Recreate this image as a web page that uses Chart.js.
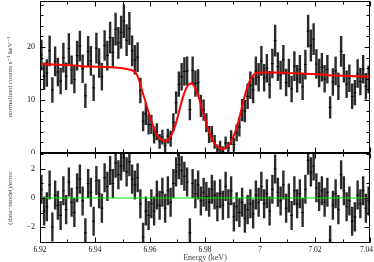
<!DOCTYPE html>
<html>
<head>
<meta charset="utf-8">
<script src="https://cdn.jsdelivr.net/npm/chart.js"></script>
<style>
    html, body { margin: 0; padding: 0; background: #fff; overflow: hidden; }
    #wrap { position: relative; width: 374px; height: 262px; }
    canvas { position: absolute; left: 0; }
</style>
</head>
<body>
<div id="wrap">
    <canvas id="spec" width="374" height="154" style="top:0"></canvas>
    <canvas id="resid" width="374" height="109" style="top:153px"></canvas>
</div>
<script>
    // channel centres (keV)
    var energy = [
        6.9205, 6.9215, 6.9225, 6.9235, 6.9245, 6.9255, 6.9265, 6.9275, 6.9285, 6.9295,
        6.9305, 6.9315, 6.9325, 6.9335, 6.9345, 6.9355, 6.9365, 6.9375, 6.9385, 6.9395,
        6.9405, 6.9415, 6.9425, 6.9435, 6.9445, 6.9455, 6.9465, 6.9475, 6.9485, 6.9495,
        6.9505, 6.9515, 6.9525, 6.9535, 6.9545, 6.9555, 6.9565, 6.9575, 6.9585, 6.9595,
        6.9605, 6.9615, 6.9625, 6.9635, 6.9645, 6.9655, 6.9665, 6.9675, 6.9685, 6.9695,
        6.9705, 6.9715, 6.9725, 6.9735, 6.9745, 6.9755, 6.9765, 6.9775, 6.9785, 6.9795,
        6.9805, 6.9815, 6.9825, 6.9835, 6.9845, 6.9855, 6.9865, 6.9875, 6.9885, 6.9895,
        6.9905, 6.9915, 6.9925, 6.9935, 6.9945, 6.9955, 6.9965, 6.9975, 6.9985, 6.9995,
        7.0005, 7.0015, 7.0025, 7.0035, 7.0045, 7.0055, 7.0065, 7.0075, 7.0085, 7.0095,
        7.0105, 7.0115, 7.0125, 7.0135, 7.0145, 7.0155, 7.0165, 7.0175, 7.0185, 7.0195,
        7.0205, 7.0215, 7.0225, 7.0235, 7.0245, 7.0255, 7.0265, 7.0275, 7.0285, 7.0295,
        7.0305, 7.0315, 7.0325, 7.0335, 7.0345, 7.0355, 7.0365, 7.0375, 7.0385, 7.0395
    ];

    // normalized counts s^-1 keV^-1
    var counts = [
        18.5, 14.5, 15.1, 19.3, 11.9, 17.3, 15.3, 13.6, 18.0, 14.5,
        19.7, 15.7, 13.9, 18.4, 20.2, 15.9, 10.8, 19.2, 17.4, 12.3,
        19.8, 17.0, 14.4, 20.3, 18.4, 21.8, 19.0, 23.4, 20.8, 22.8,
        24.9, 21.3, 23.5, 19.3, 17.6, 18.1, 11.8, 6.0, 7.4, 5.4,
        5.4, 3.4, 4.0, 2.2, 3.0, 1.4, 3.2, 2.7, 5.8, 9.5,
        13.0, 14.4, 15.4, 15.5, 8.2, 15.6, 13.1, 13.3, 8.9, 8.1,
        5.7, 3.5, 3.6, 2.1, 0.6, 1.2, 0.35, 1.9, 1.0, 2.9,
        1.6, 3.8, 4.9, 8.1, 7.9, 10.7, 12.8, 11.9, 15.5, 14.3,
        17.4, 14.2, 16.0, 12.9, 16.9, 21.2, 16.3, 14.7, 17.6, 13.3,
        15.1, 12.1, 16.4, 14.0, 15.8, 12.5, 16.7, 23.0, 20.3, 21.5,
        16.8, 15.1, 16.2, 14.0, 15.8, 8.6, 13.4, 15.5, 12.6, 19.2,
        16.0, 13.0, 14.1, 10.7, 11.4, 15.0, 13.5, 15.8, 12.6, 13.9
    ];

    var countErr = [
        2.9, 2.6, 2.6, 2.9, 2.4, 2.8, 2.7, 2.5, 2.8, 2.6,
        2.9, 2.7, 2.6, 2.8, 2.9, 2.7, 2.3, 2.9, 2.8, 2.5,
        2.9, 2.8, 2.6, 2.9, 2.8, 3.0, 2.9, 3.1, 3.0, 3.1,
        3.2, 3.0, 3.1, 2.9, 2.8, 2.8, 2.4, 1.9, 2.1, 1.9,
        1.8, 1.6, 1.6, 1.4, 1.4, 1.3, 1.4, 1.5, 1.7, 2.1,
        2.4, 2.6, 2.7, 2.7, 2.0, 2.6, 2.5, 2.5, 2.1, 2.0,
        1.8, 1.6, 1.5, 1.3, 1.0, 1.1, 0.9, 1.2, 1.1, 1.4,
        1.3, 1.6, 1.8, 2.1, 2.1, 2.4, 2.6, 2.5, 2.7, 2.7,
        2.8, 2.6, 2.7, 2.6, 2.8, 3.0, 2.7, 2.7, 2.8, 2.6,
        2.7, 2.5, 2.8, 2.6, 2.7, 2.5, 2.8, 3.1, 3.0, 3.0,
        2.8, 2.7, 2.7, 2.6, 2.7, 2.1, 2.6, 2.7, 2.6, 2.9,
        2.7, 2.6, 2.6, 2.4, 2.4, 2.7, 2.6, 2.7, 2.5, 2.6
    ];

    // (data-model)/error
    var resid = [
        0.6, -0.9, -0.6, 0.9, -2.0, 0.2, -0.5, -1.2, 0.5, -0.8,
        1.1, -0.3, -1.0, 0.7, 1.3, -0.2, -2.4, 1.0, 0.4, -1.6,
        1.2, 0.3, -0.7, 1.4, 0.8, 1.9, 1.0, 2.4, 1.6, 2.2,
        2.8, 1.8, 2.5, 1.3, 0.9, 1.4, -0.4, -2.7, -0.9, -1.2,
        -0.4, -0.9, 0.2, -0.5, 0.4, -0.7, 0.5, -0.3, 1.0, 1.8,
        2.3, 1.9, 1.5, 1.1, -2.4, 1.0, 0.3, 0.9, -0.2, 0.4,
        0.1, -0.3, 0.6, 0.2, -0.6, 0.3, -0.5, 0.8, -0.4, 0.5,
        -1.3, -0.6, -1.0, -0.3, -1.4, -0.8, -0.4, -1.1, 0.2, -0.3,
        0.8, -0.4, 0.3, -0.9, 0.6, 2.0, 0.4, -0.2, 0.9, -0.7,
        0.0, -1.2, 0.5, -0.4, 0.3, -1.0, 0.6, 2.6, 1.8, 2.2,
        0.7, 0.1, 0.5, -0.3, 0.4, -2.9, -0.5, 0.3, -0.8, 1.6,
        0.5, -0.6, -0.2, -1.6, -1.3, 0.2, -0.4, 0.5, -0.7, -0.2
    ];
    var residErr = 1;

    // model curve
    var modelE = [
        6.920, 6.925, 6.930, 6.935, 6.940, 6.945, 6.950, 6.951, 6.952, 6.953,
        6.954, 6.955, 6.956, 6.957, 6.958, 6.959, 6.960, 6.961, 6.962, 6.963,
        6.964, 6.965, 6.966, 6.967, 6.968, 6.969, 6.970, 6.971, 6.972, 6.973,
        6.974, 6.975, 6.976, 6.977, 6.978, 6.979, 6.980, 6.981, 6.982, 6.983,
        6.984, 6.985, 6.986, 6.987, 6.988, 6.989, 6.990, 6.991, 6.992, 6.993,
        6.994, 6.995, 6.996, 6.997, 6.998, 6.999, 7.000, 7.005, 7.010, 7.015,
        7.020, 7.025, 7.030, 7.035, 7.040
    ];
    var modelV = [
        16.8, 16.7, 16.6, 16.4, 16.3, 16.2, 16.0, 15.9, 15.8, 15.7,
        15.5, 15.0, 13.8, 12.0, 10.3, 8.5, 6.8, 5.3, 4.0, 3.1,
        2.6, 2.3, 2.3, 2.7, 3.6, 4.9, 6.7, 8.7, 10.6, 12.0,
        12.9, 13.1, 12.7, 11.6, 10.0, 8.2, 6.4, 4.7, 3.3, 2.2,
        1.5, 1.0, 0.8, 0.8, 1.1, 1.7, 2.7, 4.0, 5.7, 7.7,
        9.8, 11.8, 13.3, 14.3, 14.9, 15.1, 15.2, 15.2, 15.1, 15.0,
        14.9, 14.7, 14.6, 14.5, 14.4
    ];

    // axes
    var xTicks = [6.92, 6.94, 6.96, 6.98, 7.00, 7.02, 7.04];
    var xTickLabels = ['6.92', '6.94', '6.96', '6.98', '7', '7.02', '7.04'];
    var xMinor = [6.93, 6.95, 6.97, 6.99, 7.01, 7.03];
    var specTicks = [0, 10, 20];
    var specMinor = [2, 4, 6, 8, 12, 14, 16, 18, 22, 24, 26, 28];
    var residTicks = [-2, 0, 2];
    var residTickLabels = ['\u22122', '0', '2'];
    var residMinor = [-3, -1, 1, 3];

    var serif = '"Liberation Serif", "DejaVu Serif", serif';

    // box round the plot with ticks pointing inwards, like the old plot package
    var boxPlugin = {
        id: 'box',
        afterDatasetsDraw: function (chart, args, o) {
            var c = chart.ctx, a = chart.chartArea;
            var sx = chart.scales.x, sy = chart.scales.y;
            var l = Math.round(a.left) + 0.5, r = Math.round(a.right) - 0.5;
            var t = Math.round(a.top) + 0.5, b = Math.round(a.bottom) - 0.5;
            c.save();
            c.strokeStyle = '#000';
            c.lineWidth = 1;
            c.beginPath();
            function xt(v, len) {
                var p = Math.round(sx.getPixelForValue(v)) + 0.5;
                c.moveTo(p, b); c.lineTo(p, b - len);
                c.moveTo(p, t); c.lineTo(p, t + len);
            }
            function yt(v, len) {
                var p = Math.round(sy.getPixelForValue(v)) + 0.5;
                c.moveTo(l, p); c.lineTo(l + len, p);
                c.moveTo(r, p); c.lineTo(r - len, p);
            }
            xTicks.forEach(function (v) { xt(v, 5); });
            xMinor.forEach(function (v) { xt(v, 3); });
            o.major.forEach(function (v) { yt(v, 5); });
            o.minor.forEach(function (v) { yt(v, 3); });
            c.stroke();
            c.strokeRect(l, t, r - l, b - t);

            // energy labels under the lower panel, kept inside the page
            if (o.xLabels) {
                c.font = '7.5px ' + serif;
                c.fillStyle = '#111';
                c.textAlign = 'center';
                c.textBaseline = 'middle';
                xTicks.forEach(function (v, i) {
                    var txt = xTickLabels[i], w = c.measureText(txt).width;
                    var px = sx.getPixelForValue(v);
                    px = Math.min(px, chart.width - 1 - w / 2);
                    c.fillText(txt, px, a.bottom + 7);
                });
            }
            c.restore();
        }
    };

    function bars(vals, errs) {
        var out = [];
        for (var i = 0; i < energy.length; i++) {
            var e = Array.isArray(errs) ? errs[i] : errs;
            out.push({ x: energy[i], y: vals[i] - e });
            out.push({ x: energy[i], y: vals[i] + e });
            out.push({ x: energy[i], y: null });
        }
        return out;
    }

    function pts(xs, ys) {
        return xs.map(function (x, i) { return { x: x, y: ys[i] }; });
    }

    function yAxis(min, max, ticks, labels, title) {
        return {
            type: 'linear', min: min, max: max,
            afterFit: function (s) { s.width = 40; s.paddingTop = 0; s.paddingBottom = 0; },
            afterBuildTicks: function (s) { s.ticks = ticks.map(function (v) { return { value: v }; }); },
            grid: { display: false, drawTicks: false },
            border: { display: false },
            ticks: {
                padding: 5, color: '#111',
                font: { family: serif, size: 8 },
                callback: function (v) { return labels[ticks.indexOf(v)]; }
            },
            title: {
                display: true, text: title, color: '#444',
                font: { family: serif, size: 7, lineHeight: 1 },
                padding: { top: 6.5, bottom: 0 }
            }
        };
    }

    var common = {
        responsive: false,
        animation: false,
        events: [],
        plugins: { legend: { display: false }, tooltip: { enabled: false } }
    };

    new Chart(document.getElementById('spec').getContext('2d'), {
        type: 'scatter',
        data: {
            datasets: [{
                data: pts(modelE, modelV),
                showLine: true,
                borderColor: '#ff0000',
                borderWidth: 2,
                pointRadius: 0,
                cubicInterpolationMode: 'monotone'
            }, {
                data: pts(energy, counts),
                pointStyle: 'line',
                pointRadius: 1.4,
                borderColor: '#000',
                borderWidth: 1
            }, {
                data: bars(counts, countErr),
                showLine: true,
                spanGaps: false,
                borderColor: '#2a2a2a',
                borderWidth: 2.4,
                pointRadius: 0
            }]
        },
        options: Object.assign({}, common, {
            layout: { autoPadding: false, padding: { left: 0, right: 4, top: 1, bottom: 1 } },
            scales: {
                x: { type: 'linear', min: 6.92, max: 7.04, display: false },
                y: yAxis(0, 28.7, specTicks, ['0', '10', '20'], 'normalized counts s\u207B\u00B9 keV\u207B\u00B9')
            },
            plugins: Object.assign({}, common.plugins, { box: { major: specTicks, minor: specMinor } })
        }),
        plugins: [boxPlugin]
    });

    new Chart(document.getElementById('resid').getContext('2d'), {
        type: 'scatter',
        data: {
            datasets: [{
                data: [{ x: 6.92, y: 0 }, { x: 7.04, y: 0 }],
                showLine: true,
                borderColor: '#00e000',
                borderWidth: 1.2,
                pointRadius: 0
            }, {
                data: pts(energy, resid),
                pointStyle: 'line',
                pointRadius: 1.4,
                borderColor: '#000',
                borderWidth: 1
            }, {
                data: bars(resid, residErr),
                showLine: true,
                spanGaps: false,
                borderColor: '#2a2a2a',
                borderWidth: 2.4,
                pointRadius: 0
            }]
        },
        options: Object.assign({}, common, {
            layout: { autoPadding: false, padding: { left: 0, right: 4, top: 0, bottom: 0 } },
            scales: {
                x: {
                    type: 'linear', min: 6.92, max: 7.04,
                    afterFit: function (s) { s.height = 19; s.paddingLeft = 0; s.paddingRight = 0; },
                    afterBuildTicks: function (s) { s.ticks = xTicks.map(function (v) { return { value: v }; }); },
                    grid: { display: false, drawTicks: false },
                    border: { display: false },
                    ticks: { display: false },
                    title: {
                        display: true, text: 'Energy (keV)', color: '#444',
                        font: { family: serif, size: 8, lineHeight: 1 },
                        padding: 0
                    }
                },
                y: yAxis(-3.1, 3.1, residTicks, residTickLabels, '(data\u2212model)/error')
            },
            plugins: Object.assign({}, common.plugins, {
                box: { major: residTicks, minor: residMinor, xLabels: true }
            })
        }),
        plugins: [boxPlugin]
    });
</script>
</body>
</html>
